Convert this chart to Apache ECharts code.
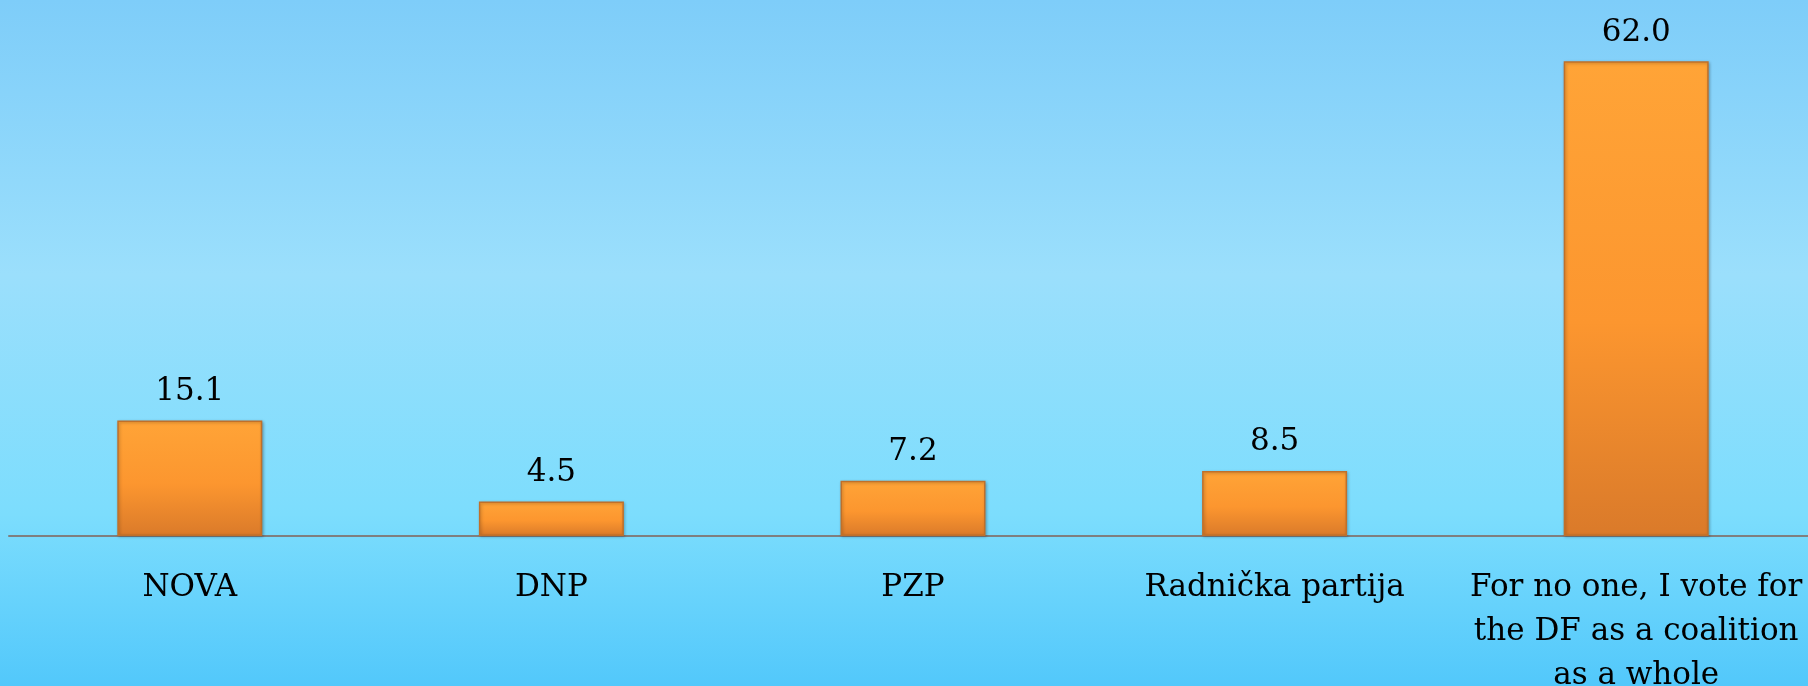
<!DOCTYPE html>
<html>
<head>
<meta charset="utf-8">
<script src="https://cdn.jsdelivr.net/npm/echarts@6/dist/echarts.min.js"></script>
<style>
html,body{margin:0;padding:0;width:1808px;height:686px;overflow:hidden;}
#c{width:1808px;height:686px;}
</style>
</head>
<body>
<div id="c"></div>
<script>
const categories = ["NOVA", "DNP", "PZP", "Radnička partija", "For no one, I vote for\nthe DF as a coalition\nas a whole"];
const values = [15.1, 4.5, 7.2, 8.5, 62.0];

const chart = echarts.init(document.getElementById('c'));
const font = '"DejaVu Serif", "Liberation Serif", serif';
chart.setOption({
  backgroundColor: new echarts.graphic.LinearGradient(0, 0, 0, 1, [
    {offset: 0, color: '#7ECDF9'},
    {offset: 0.4, color: '#9BDFFC'},
    {offset: 0.75, color: '#7CDDFD'},
    {offset: 1, color: '#52C8FB'}
  ]),
  animation: false,
  grid: {left: 9, width: 1808, top: 0, bottom: 150, containLabel: false, outerBoundsMode: 'none'},
  xAxis: {
    type: 'category',
    data: categories,
    axisLine: {lineStyle: {color: '#7f7f7f', width: 2}},
    axisTick: {show: false},
    axisLabel: {
      color: '#000',
      fontFamily: font,
      fontSize: 31,
      lineHeight: 44,
      margin: 30,
      interval: 0,
      hideOverlap: false
    }
  },
  yAxis: {
    type: 'value',
    min: 0,
    max: 70,
    show: false,
    splitLine: {show: false}
  },
  series: [{
    type: 'bar',
    data: values,
    barWidth: 145,
    itemStyle: {
      color: new echarts.graphic.LinearGradient(0, 0, 0, 1, [
        {offset: 0, color: '#FFA437'},
        {offset: 0.55, color: '#FC962F'},
        {offset: 1, color: '#DA7A2A'}
      ]),
      borderColor: '#C0702A',
      borderWidth: 1.5,
      shadowColor: 'rgba(0,0,0,0.25)',
      shadowBlur: 3,
      shadowOffsetX: 1,
      shadowOffsetY: 1
    },
    label: {
      show: true,
      position: 'top',
      distance: 13,
      color: '#000',
      fontFamily: font,
      fontSize: 31,
      formatter: p => p.value.toFixed(1)
    }
  }]
});
</script>
</body>
</html>
